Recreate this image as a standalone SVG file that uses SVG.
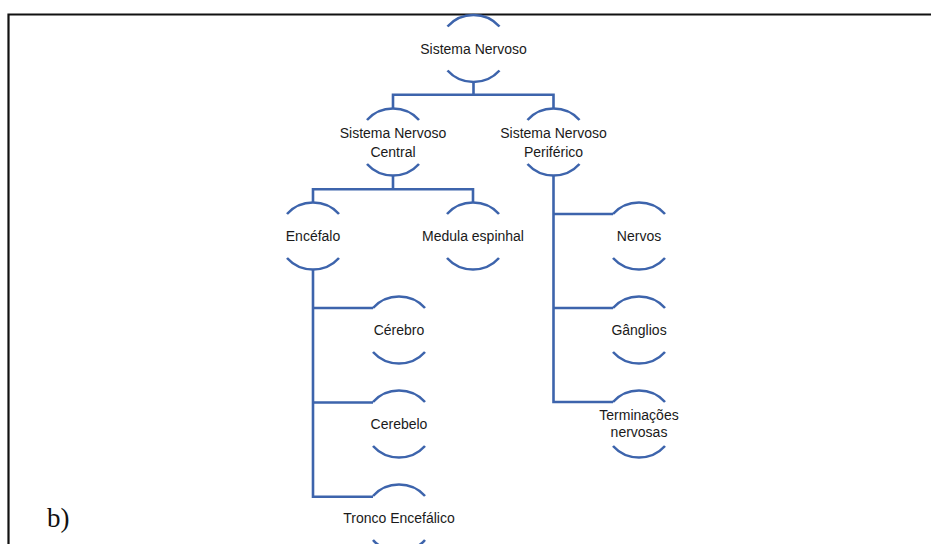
<svg xmlns="http://www.w3.org/2000/svg" xmlns:xlink="http://www.w3.org/1999/xlink" width="931" height="544" viewBox="0 0 931 544">
  <style>
    .frame { fill: none; stroke: #111111; stroke-width: 2.2; }
    .arc { fill: none; stroke: #3D64AC; stroke-width: 2.6; }
    .wire { fill: none; stroke: #3D64AC; stroke-width: 2.6; stroke-linejoin: miter; }
    .lbl { font-family: "Liberation Sans", Arial, sans-serif; font-size: 14px; fill: #1a1a1a; text-anchor: middle; }
    .tag { font-family: "Liberation Serif", "Times New Roman", serif; font-size: 27px; fill: #111111; }
  </style>
  <defs>
    <!-- open node: an upper and a lower arc of an ellipse around the label -->
    <path id="node-arcs" class="arc" d="M -26 -22 A 34.5 33.5 0 0 1 26 -22 M -26 22 A 34.5 33.5 0 0 0 26 22"/>
  </defs>

  <rect width="931" height="544" fill="#ffffff"/>
  <!-- page frame: left and top edges -->
  <path class="frame" d="M 8.5 544 V 14.5 H 931"/>

  <!-- connectors -->
  <g id="connectors" class="wire">
    <path d="M 473.5 82 V 94.7 H 393 V 108.5 M 473.5 94.7 H 553.5 V 108.5"/>
    <path d="M 393 175.5 V 189.3 H 313 V 202.5 M 393 189.3 H 473 V 202.5"/>
    <path d="M 313 269.5 V 496.7 H 373 M 313 308 H 373 M 313 402.5 H 373"/>
    <path d="M 553.5 175.5 V 402 H 613 M 553.5 214 H 613 M 553.5 308 H 613"/>
  </g>

  <g id="n-sistema-nervoso" transform="translate(473.5,48.5)">
    <use xlink:href="#node-arcs"/>
    <text class="lbl" y="5">Sistema Nervoso</text>
  </g>
  <g id="n-snc" transform="translate(393,142)">
    <use xlink:href="#node-arcs"/>
    <text class="lbl" y="-4">Sistema Nervoso</text>
    <text class="lbl" y="14.5">Central</text>
  </g>
  <g id="n-snp" transform="translate(553.5,142)">
    <use xlink:href="#node-arcs"/>
    <text class="lbl" y="-4">Sistema Nervoso</text>
    <text class="lbl" y="14.5">Periférico</text>
  </g>
  <g id="n-encefalo" transform="translate(313,236)">
    <use xlink:href="#node-arcs"/>
    <text class="lbl" y="5">Encéfalo</text>
  </g>
  <g id="n-medula" transform="translate(473,236)">
    <use xlink:href="#node-arcs"/>
    <text class="lbl" y="5">Medula espinhal</text>
  </g>
  <g id="n-cerebro" transform="translate(399,330)">
    <use xlink:href="#node-arcs"/>
    <text class="lbl" y="5">Cérebro</text>
  </g>
  <g id="n-cerebelo" transform="translate(399,424)">
    <use xlink:href="#node-arcs"/>
    <text class="lbl" y="5">Cerebelo</text>
  </g>
  <g id="n-tronco" transform="translate(399,518)">
    <use xlink:href="#node-arcs"/>
    <text class="lbl" y="5">Tronco Encefálico</text>
  </g>
  <g id="n-nervos" transform="translate(639,236)">
    <use xlink:href="#node-arcs"/>
    <text class="lbl" y="5">Nervos</text>
  </g>
  <g id="n-ganglios" transform="translate(639,330)">
    <use xlink:href="#node-arcs"/>
    <text class="lbl" y="5">Gânglios</text>
  </g>
  <g id="n-terminacoes" transform="translate(639,424)">
    <use xlink:href="#node-arcs"/>
    <text class="lbl" y="-4">Terminações</text>
    <text class="lbl" y="12.5">nervosas</text>
  </g>

  <text class="tag" x="47" y="527">b)</text>
</svg>
